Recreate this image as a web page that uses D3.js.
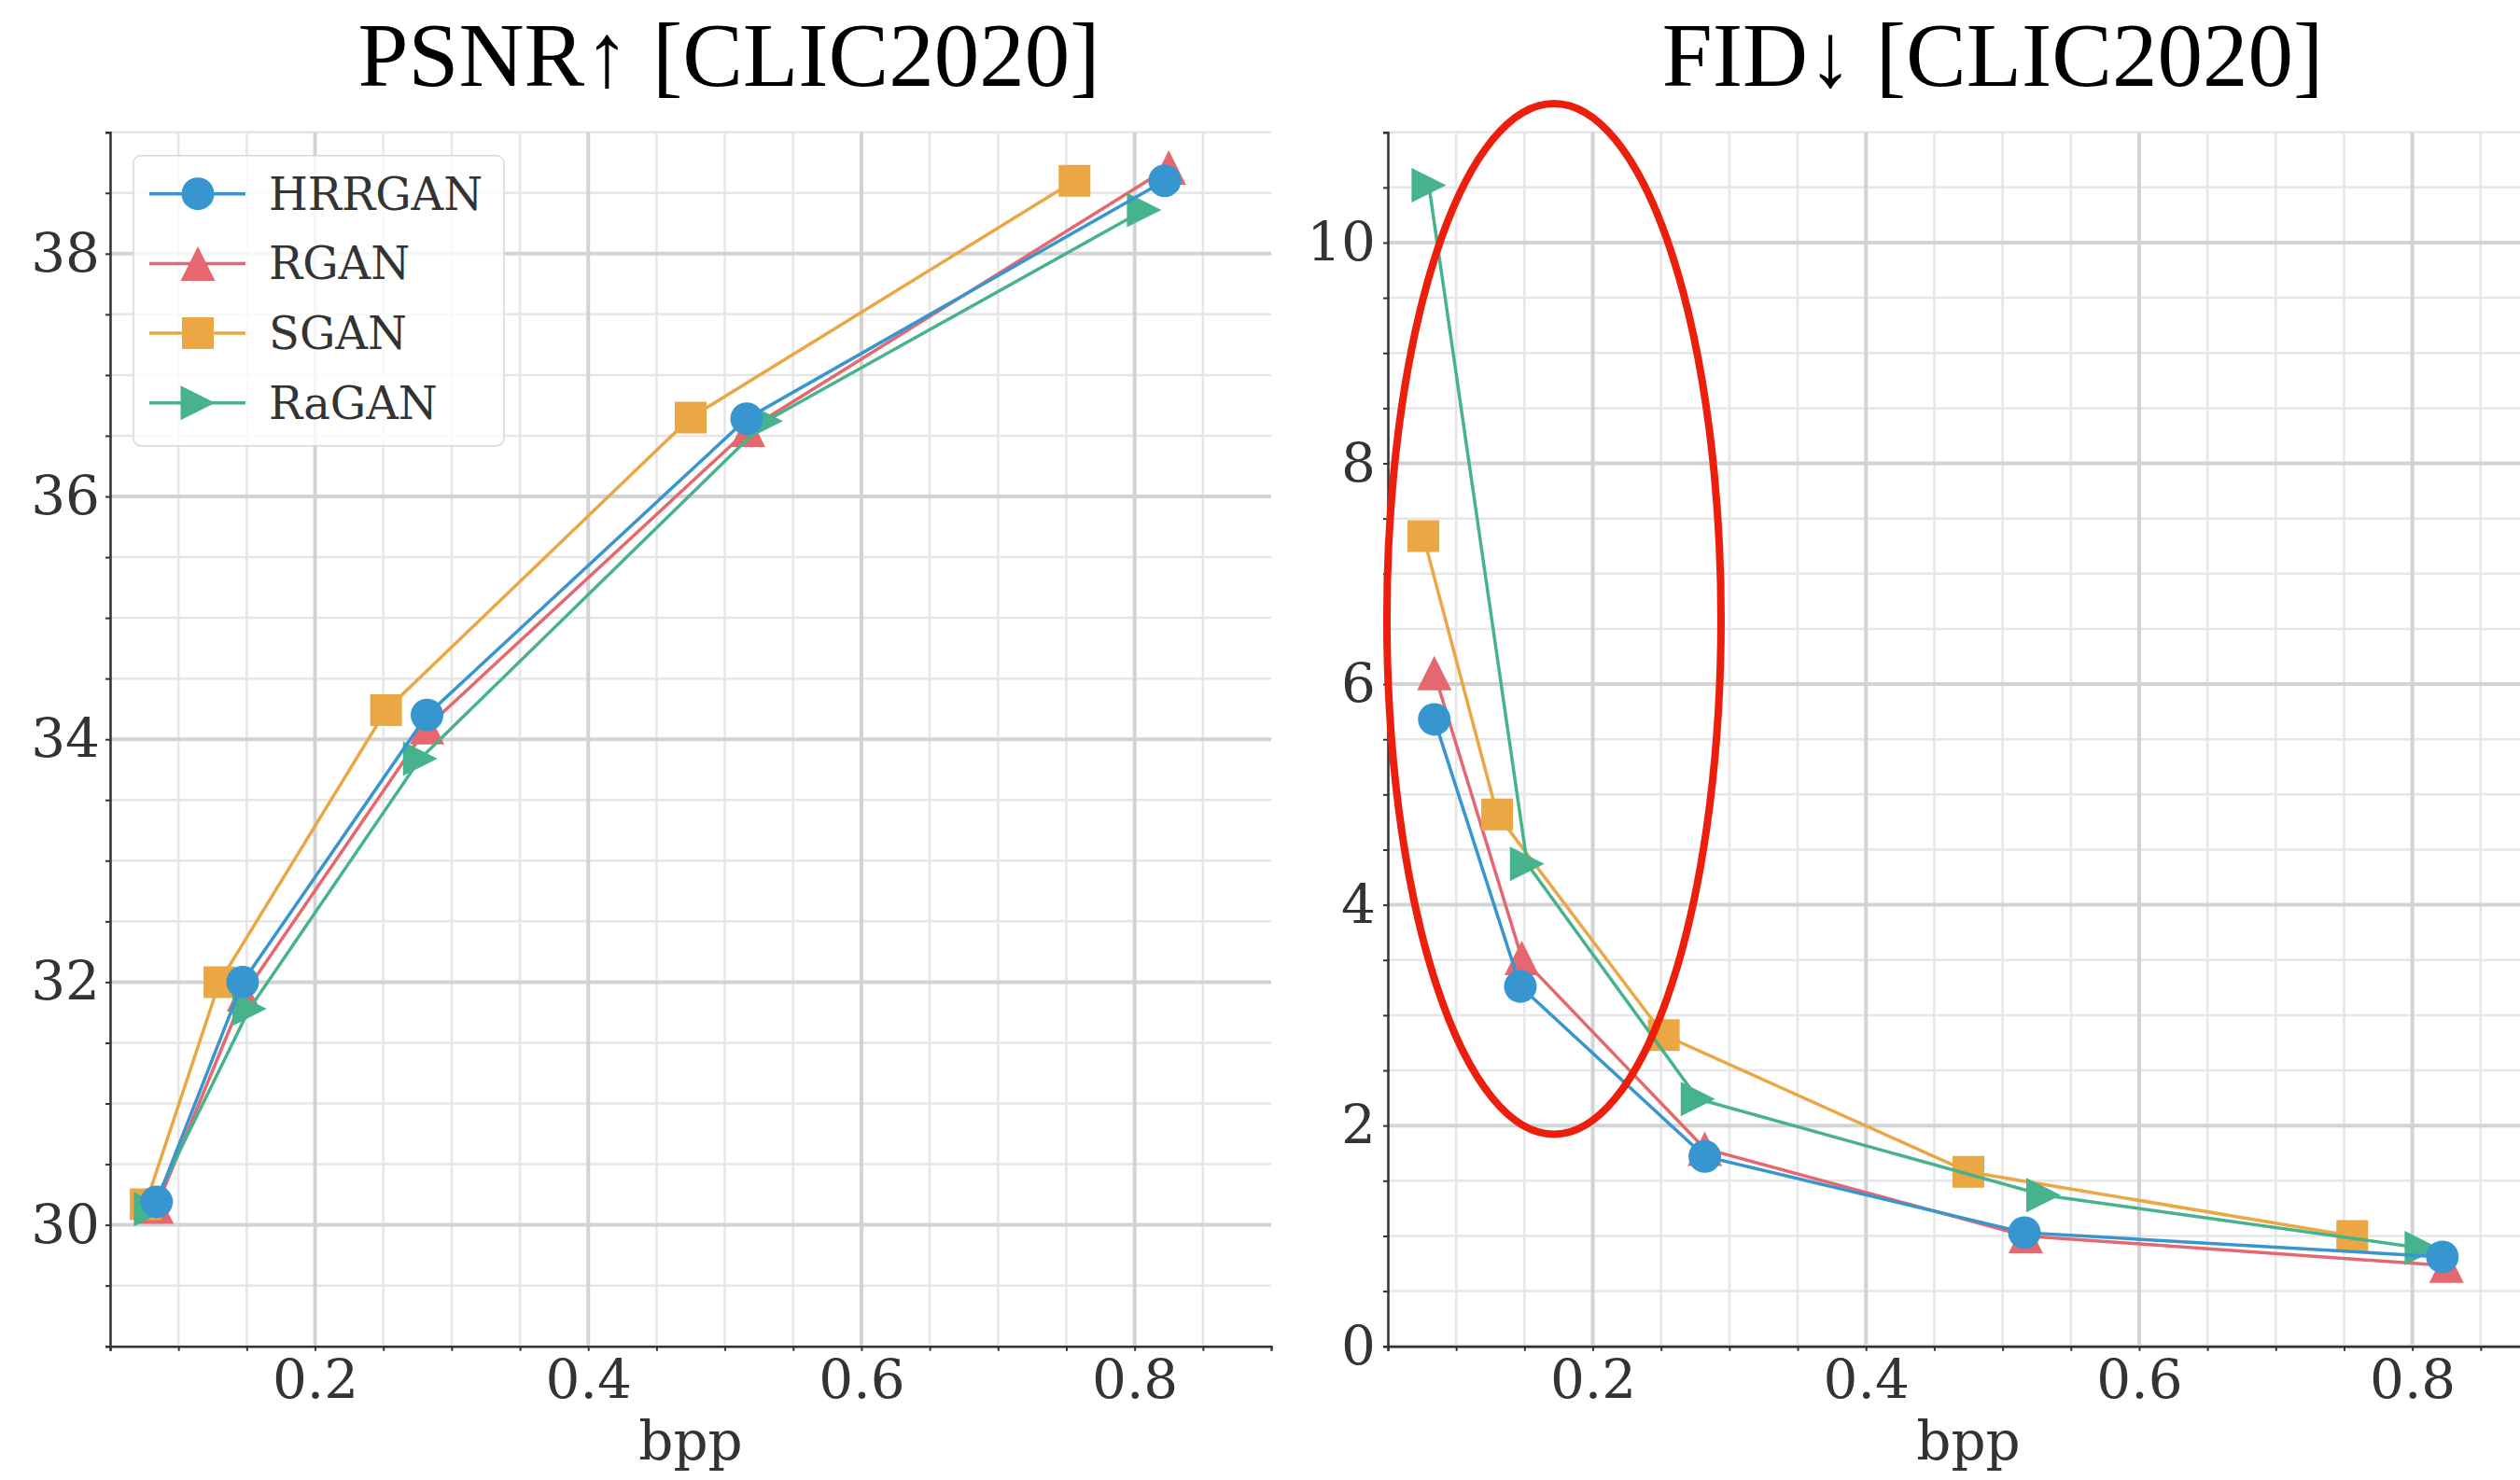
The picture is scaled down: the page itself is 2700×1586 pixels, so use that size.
<!DOCTYPE html>
<html>
<head>
<meta charset="utf-8">
<script src="https://cdn.jsdelivr.net/npm/d3@7"></script>
<style>
  body { margin: 0; background: #fff; }
  svg { display: block; }
</style>
</head>
<body>
<div id="chart"></div>
<script>
// Rate-distortion curves on CLIC2020.
const methods = ['HRRGAN', 'RGAN', 'SGAN', 'RaGAN'];

const bppHRRGAN = [0.084, 0.147, 0.282, 0.516, 0.822];
const bppRGAN   = [0.084, 0.148, 0.282, 0.517, 0.825];
const bppSGAN   = [0.076, 0.130, 0.252, 0.475, 0.756];
const bppRaGAN  = [0.080, 0.152, 0.277, 0.530, 0.807];

const psnrHRRGAN = [30.19, 32.00, 34.20, 36.64, 38.60];
const psnrRGAN   = [30.15, 31.90, 34.10, 36.55, 38.71];
const psnrSGAN   = [30.17, 32.00, 34.24, 36.65, 38.60];
const psnrRaGAN  = [30.13, 31.78, 33.84, 36.62, 38.36];

const fidHRRGAN = [5.68, 3.26, 1.72, 1.03, 0.81];
const fidRGAN   = [6.10, 3.52, 1.79, 1.00, 0.73];
const fidSGAN   = [7.34, 4.82, 2.82, 1.58, 1.00];
const fidRaGAN  = [10.52, 4.37, 2.24, 1.37, 0.89];

const xMajorTicks = [0.2, 0.4, 0.6, 0.8];
const psnrMajorTicks = [30, 32, 34, 36, 38];
const fidMajorTicks = [0, 2, 4, 6, 8, 10];

// hand-drawn highlight on the FID panel (centre bpp/FID, radii in data units)
const highlight = { cx: 0.1716, cy: 6.59, rx: 0.1223, ry: 4.67 };

const colors = { HRRGAN: '#3795d0', RGAN: '#e5676f', SGAN: '#eaa743', RaGAN: '#47b38c' };
const shapes = { HRRGAN: 'circle', RGAN: 'up', SGAN: 'square', RaGAN: 'right' };

const series = {
  HRRGAN: { bpp: bppHRRGAN, psnr: psnrHRRGAN, fid: fidHRRGAN },
  RGAN:   { bpp: bppRGAN,   psnr: psnrRGAN,   fid: fidRGAN },
  SGAN:   { bpp: bppSGAN,   psnr: psnrSGAN,   fid: fidSGAN },
  RaGAN:  { bpp: bppRaGAN,  psnr: psnrRaGAN,  fid: fidRaGAN },
};

const drawOrder = ['RGAN', 'SGAN', 'RaGAN', 'HRRGAN'];

const W = 2700, H = 1586;
const serif = '"DejaVu Serif", serif';
const titleFont = '"Liberation Serif", "Times New Roman", serif';

const svg = d3.select('#chart').append('svg')
  .attr('width', W).attr('height', H)
  .style('background', '#fff');

function markerPath(shape, s) {
  const h = s / 2;
  if (shape === 'circle') return d3.symbol(d3.symbolCircle, Math.PI * h * h)();
  if (shape === 'square') return `M${-h},${-h}H${h}V${h}H${-h}Z`;
  if (shape === 'up') return `M0,${-h}L${h},${h}L${-h},${h}Z`;
  return `M${h},0L${-h},${h}L${-h},${-h}Z`;
}
const markerSize = { circle: 35, square: 34, up: 37, right: 37 };

function panel(opt) {
  const { left, top, width, height } = opt;
  const g = svg.append('g').attr('transform', `translate(${left},${top})`);

  const x = d3.scaleLinear().domain([0.05, 0.9]).range([0, width]);
  const y = d3.scaleLinear().domain(opt.yDomain).range([height, 0]);

  const xMinor = d3.range(0.05, 0.8999, 0.05).filter(v => !xMajorTicks.some(m => Math.abs(m - v) < 1e-6));
  const yMinor = d3.range(opt.yDomain[0], opt.yDomain[1] + 0.001, 0.5)
    .filter(v => !opt.yMajor.some(m => Math.abs(m - v) < 1e-6));

  // minor grid
  g.append('g').selectAll('line').data(xMinor).join('line')
    .attr('x1', d => x(d)).attr('x2', d => x(d)).attr('y1', 0).attr('y2', height)
    .attr('stroke', '#e6e6e6').attr('stroke-width', 2.5);
  g.append('g').selectAll('line').data(yMinor).join('line')
    .attr('x1', 0).attr('x2', width).attr('y1', d => y(d)).attr('y2', d => y(d))
    .attr('stroke', '#e6e6e6').attr('stroke-width', 2.5);
  // major grid
  g.append('g').selectAll('line').data(xMajorTicks).join('line')
    .attr('x1', d => x(d)).attr('x2', d => x(d)).attr('y1', 0).attr('y2', height)
    .attr('stroke', '#d3d3d3').attr('stroke-width', 4);
  g.append('g').selectAll('line').data(opt.yMajor).join('line')
    .attr('x1', 0).attr('x2', width).attr('y1', d => y(d)).attr('y2', d => y(d))
    .attr('stroke', '#d3d3d3').attr('stroke-width', 4);

  // axes
  const xAxis = g.append('g').attr('transform', `translate(0,${height})`)
    .call(d3.axisBottom(x).tickValues(xMajorTicks).tickFormat(d3.format('.1f')).tickSize(5).tickPadding(9));
  g.append('g').attr('transform', `translate(0,${height})`)
    .call(d3.axisBottom(x).tickValues(xMinor).tickFormat('').tickSize(5))
    .call(a => a.select('.domain').remove());
  const yAxis = g.append('g')
    .call(d3.axisLeft(y).tickValues(opt.yMajor).tickFormat(d3.format('d')).tickSize(5).tickPadding(opt.yPad));
  g.append('g')
    .call(d3.axisLeft(y).tickValues(yMinor).tickFormat('').tickSize(5))
    .call(a => a.select('.domain').remove());

  g.selectAll('.domain').attr('stroke', '#333').attr('stroke-width', 2.5);
  g.selectAll('.tick line').attr('stroke', '#333').attr('stroke-width', 2);
  g.selectAll('.tick text')
    .attr('font-family', serif).attr('font-size', 58).attr('fill', '#333');
  xAxis.raise(); yAxis.raise();

  // series
  const line = d3.line().x(d => x(d[0])).y(d => y(d[1]));
  for (const m of drawOrder) {
    const s = series[m];
    const pts = s.bpp.map((b, i) => [b, s[opt.metric][i]]);
    g.append('path').datum(pts)
      .attr('d', line).attr('fill', 'none')
      .attr('stroke', colors[m]).attr('stroke-width', 3.5);
    g.append('g').selectAll('path').data(pts).join('path')
      .attr('transform', d => `translate(${x(d[0])},${y(d[1])})`)
      .attr('d', markerPath(shapes[m], markerSize[shapes[m]]))
      .attr('fill', colors[m]);
  }

  // titles and labels
  svg.append('text')
    .attr('x', left + width / 2 + opt.titleShift).attr('y', 92)
    .attr('text-anchor', 'middle')
    .attr('font-family', titleFont).attr('font-size', 97).attr('fill', '#000')
    .text(opt.title);
  svg.append('text')
    .attr('x', left + width / 2).attr('y', 1564)
    .attr('text-anchor', 'middle')
    .attr('font-family', serif).attr('font-size', 58).attr('fill', '#333')
    .text('bpp');

  return { g, x, y };
}

const left = panel({
  left: 118, top: 141.7, width: 1244, height: 1301,
  yDomain: [29, 39], yMajor: psnrMajorTicks, metric: 'psnr',
  title: 'PSNR\u2191 [CLIC2020]', titleShift: 41, yPad: 6
});

const right = panel({
  left: 1487, top: 141.7, width: 1244, height: 1301,
  yDomain: [0, 11], yMajor: fidMajorTicks, metric: 'fid',
  title: 'FID\u2193 [CLIC2020]', titleShift: 26, yPad: 8
});

// red highlight ellipse on FID panel
right.g.append('ellipse')
  .attr('cx', right.x(highlight.cx)).attr('cy', right.y(highlight.cy))
  .attr('rx', right.x(highlight.cx + highlight.rx) - right.x(highlight.cx))
  .attr('ry', right.y(highlight.cy - highlight.ry) - right.y(highlight.cy))
  .attr('fill', 'none').attr('stroke', '#ec1e0c').attr('stroke-width', 8);

// legend (left panel, upper-left)
const lg = left.g.append('g').attr('transform', 'translate(25,25)');
lg.append('rect')
  .attr('x', 0).attr('y', 0).attr('width', 397).attr('height', 311).attr('rx', 8)
  .attr('fill', 'rgba(255,255,255,0.8)').attr('stroke', '#d8d8d8').attr('stroke-width', 1.5);
methods.forEach((m, i) => {
  const cy = 41 + i * 74.7;
  lg.append('line').attr('x1', 17).attr('x2', 120).attr('y1', cy).attr('y2', cy)
    .attr('stroke', colors[m]).attr('stroke-width', 3.5);
  lg.append('path').attr('transform', `translate(69,${cy})`)
    .attr('d', markerPath(shapes[m], markerSize[shapes[m]]))
    .attr('fill', colors[m]);
  lg.append('text').attr('x', 145).attr('y', cy + 17)
    .attr('font-family', serif).attr('font-size', 48).attr('fill', '#333')
    .text(m);
});
</script>
</body>
</html>
